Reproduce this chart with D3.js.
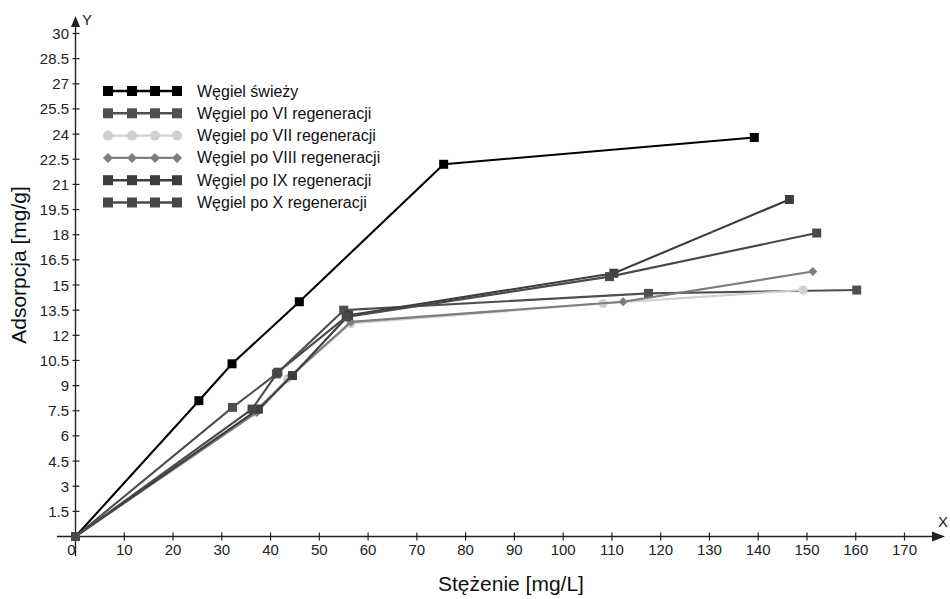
<!DOCTYPE html>
<html>
<head>
<meta charset="utf-8">
<script src="https://cdn.jsdelivr.net/npm/d3@7"></script>
<style>
  html, body { margin: 0; padding: 0; background: #fff; }
  svg { display: block; }
  .tick-label { font-family: "Liberation Sans Narrow", "Arial Narrow", "Liberation Sans", sans-serif; font-size: 15px; fill: #222; }
  .legend-label { font-family: "Liberation Sans", Arial, sans-serif; font-size: 16px; fill: #111; }
  .axis-title { font-family: "Liberation Sans", Arial, sans-serif; font-size: 21px; fill: #111; }
</style>
</head>
<body>
<svg id="chart" width="950" height="599"></svg>
<script>
// Concentration [mg/L] vs adsorption [mg/g] for fresh and regenerated carbon
const seriesNames = [
  "Węgiel świeży",
  "Węgiel po VI regeneracji",
  "Węgiel po VII regeneracji",
  "Węgiel po VIII regeneracji",
  "Węgiel po IX regeneracji",
  "Węgiel po X regeneracji"
];
const swiezyX = [0, 25.3, 32.1, 45.9, 75.5, 139.2];
const swiezyY = [0, 8.1, 10.3, 14.0, 22.2, 23.8];
const regVIX  = [0, 32.2, 41.2, 55.0, 117.5, 160.2];
const regVIY  = [0, 7.7, 9.7, 13.5, 14.5, 14.7];
const regVIIX = [0, 36.5, 43.5, 56.5, 108.2, 149.2];
const regVIIY = [0, 7.4, 9.4, 12.7, 13.9, 14.7];
const regVIIIX = [0, 37.2, 44.2, 56.5, 112.3, 151.2];
const regVIIIY = [0, 7.4, 9.6, 12.8, 14.0, 15.8];
const regIXX  = [0, 37.5, 44.5, 56.0, 110.4, 146.4];
const regIXY  = [0, 7.6, 9.6, 13.2, 15.7, 20.1];
const regXX   = [0, 36.2, 41.5, 55.5, 109.5, 152.0];
const regXY   = [0, 7.6, 9.8, 13.1, 15.5, 18.1];

const xTicks = [10, 20, 30, 40, 50, 60, 70, 80, 90, 100, 110, 120, 130, 140, 150, 160, 170];
const yTicks = [1.5, 3, 4.5, 6, 7.5, 9, 10.5, 12, 13.5, 15, 16.5, 18, 19.5, 21, 22.5, 24, 25.5, 27, 28.5, 30];

const styles = [
  { color: "#000000", shape: "square", size: 9 },
  { color: "#4f4f4f", shape: "square", size: 9 },
  { color: "#d0d0d0", shape: "circle", size: 9 },
  { color: "#7d7d7d", shape: "diamond", size: 9 },
  { color: "#3d3d3d", shape: "square", size: 9 },
  { color: "#484848", shape: "square", size: 9 }
];
const xs = [swiezyX, regVIX, regVIIX, regVIIIX, regIXX, regXX];
const ys = [swiezyY, regVIY, regVIIY, regVIIIY, regIXY, regXY];
const series = seriesNames.map((name, i) => ({
  name, style: styles[i],
  points: xs[i].map((x, j) => ({ x, y: ys[i][j] }))
}));

const svg = d3.select("#chart");
const x = d3.scaleLinear().domain([0, 170]).range([75.5, 904.5]);
const y = d3.scaleLinear().domain([0, 30]).range([536.5, 33.5]);
const axisColor = "#222";

// axes
const axes = svg.append("g").attr("stroke", axisColor).attr("stroke-width", 1.4);
axes.append("line").attr("x1", 57).attr("x2", 934).attr("y1", y(0)).attr("y2", y(0));
axes.append("line").attr("x1", x(0)).attr("x2", x(0)).attr("y1", 556).attr("y2", 26);
svg.append("path")
  .attr("d", `M${x(0)},16 L${x(0) - 4.5},27 L${x(0) + 4.5},27 Z`).attr("fill", axisColor);
svg.append("path")
  .attr("d", `M945,${y(0)} L932,${y(0) - 5} L932,${y(0) + 5} Z`).attr("fill", axisColor);
svg.append("text").attr("class", "tick-label").attr("x", 82).attr("y", 25).text("Y");
svg.append("text").attr("class", "tick-label").attr("x", 938).attr("y", 527).text("X");

// x ticks
const xt = svg.append("g");
xt.selectAll("line").data(xTicks).join("line")
  .attr("x1", d => x(d)).attr("x2", d => x(d))
  .attr("y1", y(0) - 4).attr("y2", y(0) + 4)
  .attr("stroke", axisColor).attr("stroke-width", 1.2);
xt.selectAll("text").data(xTicks).join("text")
  .attr("class", "tick-label").attr("text-anchor", "middle")
  .attr("x", d => x(d)).attr("y", 555).text(d => d);
svg.append("text").attr("class", "tick-label").attr("text-anchor", "middle")
  .attr("x", x(0) - 4).attr("y", 555).text("0");

// y ticks
const yt = svg.append("g");
yt.selectAll("line").data(yTicks).join("line")
  .attr("x1", x(0) - 3).attr("x2", x(0) + 4)
  .attr("y1", d => y(d)).attr("y2", d => y(d))
  .attr("stroke", axisColor).attr("stroke-width", 1.2);
yt.selectAll("text").data(yTicks).join("text")
  .attr("class", "tick-label").attr("text-anchor", "end")
  .attr("x", 69).attr("y", d => y(d) + 5.5).text(d => d);

// axis titles
svg.append("text").attr("class", "axis-title").attr("text-anchor", "middle")
  .attr("x", 511).attr("y", 591).text("Stężenie [mg/L]");
svg.append("text").attr("class", "axis-title").attr("text-anchor", "middle")
  .attr("transform", "translate(26,265) rotate(-90)").text("Adsorpcja [mg/g]");

// marker shapes: square, circle and a square rotated 45°
function symbolPath(shape, size) {
  const h = size / 2;
  if (shape === "diamond") return `M0,${-h}L${h},0L0,${h}L${-h},0Z`;
  if (shape === "circle") return d3.symbol().type(d3.symbolCircle).size(Math.PI * h * h)();
  return d3.symbol().type(d3.symbolSquare).size(size * size)();
}

// series lines and markers
const line = d3.line().x(d => x(d.x)).y(d => y(d.y));
const plot = svg.append("g");
series.forEach(s => {
  const g = plot.append("g");
  g.append("path").attr("d", line(s.points))
    .attr("fill", "none").attr("stroke", s.style.color).attr("stroke-width", 2.1)
    .attr("stroke-linejoin", "round");
  g.selectAll("path.m").data(s.points).join("path").attr("class", "m")
    .attr("transform", d => `translate(${x(d.x)},${y(d.y)})`)
    .attr("d", symbolPath(s.style.shape, s.style.size))
    .attr("fill", s.style.color);
});

// legend
const legend = svg.append("g");
const markerXs = [108, 132, 155, 177];
series.forEach((s, i) => {
  const ly = 91 + i * 22.3;
  const g = legend.append("g");
  g.append("line").attr("x1", 105).attr("x2", 180).attr("y1", ly).attr("y2", ly)
    .attr("stroke", s.style.color).attr("stroke-width", 2.4);
  g.selectAll("path").data(markerXs).join("path")
    .attr("transform", mx => `translate(${mx},${ly})`)
    .attr("d", symbolPath(s.style.shape, s.style.size + 1))
    .attr("fill", s.style.color);
  g.append("text").attr("class", "legend-label")
    .attr("x", 197).attr("y", ly + 5.5).text(s.name);
});
</script>
</body>
</html>
